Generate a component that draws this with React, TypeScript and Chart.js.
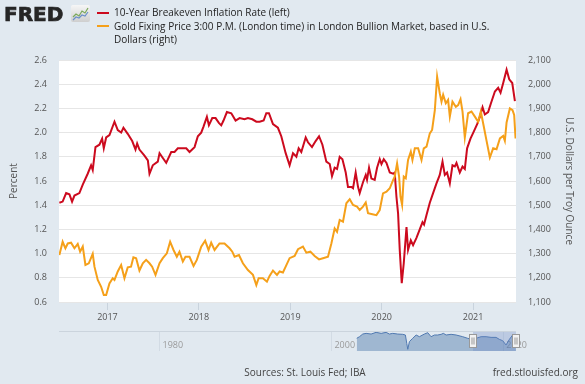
import React, { useEffect, useRef } from 'react';
import { Chart, registerables } from 'chart.js';

Chart.register(...registerables);

// ---------- data ----------
const breakevenName = '10-Year Breakeven Inflation Rate (left)';
const goldNameLines = ['Gold Fixing Price 3:00 P.M. (London time) in London Bullion Market, based in U.S.', 'Dollars (right)'];

const breakevenDates = [
  2016.474, 2016.510, 2016.548, 2016.584, 2016.613, 2016.639, 2016.693, 2016.730, 2016.784, 2016.821,
  2016.839, 2016.869, 2016.912, 2016.942, 2016.960, 2016.986, 2017.022, 2017.077, 2017.113, 2017.150,
  2017.175, 2017.222, 2017.271, 2017.307, 2017.325, 2017.350, 2017.405, 2017.442, 2017.460, 2017.496,
  2017.551, 2017.570, 2017.606, 2017.643, 2017.698, 2017.734, 2017.770, 2017.825, 2017.862, 2017.898,
  2017.953, 2017.989, 2018.026, 2018.051, 2018.088, 2018.110, 2018.147, 2018.183, 2018.219, 2018.245,
  2018.270, 2018.307, 2018.355, 2018.402, 2018.446, 2018.500, 2018.537, 2018.585, 2018.629, 2018.665,
  2018.709, 2018.738, 2018.767, 2018.811, 2018.865, 2018.902, 2018.950, 2018.993, 2019.030, 2019.067,
  2019.092, 2019.121, 2019.169, 2019.194, 2019.238, 2019.278, 2019.315, 2019.352, 2019.395, 2019.432,
  2019.457, 2019.486, 2019.512, 2019.541, 2019.571, 2019.607, 2019.632, 2019.669, 2019.687, 2019.716,
  2019.742, 2019.760, 2019.796, 2019.826, 2019.840, 2019.862, 2019.888, 2019.924, 2019.950, 2019.979,
  2019.998, 2020.023, 2020.053, 2020.089, 2020.125, 2020.143, 2020.162, 2020.180, 2020.198, 2020.220,
  2020.242, 2020.272, 2020.289, 2020.319, 2020.344, 2020.381, 2020.417, 2020.447, 2020.464, 2020.491,
  2020.527, 2020.563, 2020.600, 2020.636, 2020.666, 2020.691, 2020.716, 2020.746, 2020.775, 2020.801,
  2020.819, 2020.855, 2020.885, 2020.910, 2020.935, 2020.972, 2021.009, 2021.045, 2021.074, 2021.104,
  2021.129, 2021.165, 2021.195, 2021.239, 2021.275, 2021.301, 2021.330, 2021.367, 2021.396, 2021.429,
  2021.458,
];
const breakevenValues = [
  1.42, 1.43, 1.50, 1.49, 1.43, 1.48, 1.50, 1.57, 1.66, 1.73,
  1.69, 1.88, 1.90, 1.95, 1.87, 1.96, 1.98, 2.09, 2.02, 2.00,
  2.04, 1.99, 1.93, 1.86, 1.91, 1.86, 1.81, 1.77, 1.66, 1.73,
  1.76, 1.83, 1.79, 1.75, 1.84, 1.84, 1.87, 1.87, 1.87, 1.84,
  1.88, 1.97, 2.00, 2.05, 2.13, 2.06, 2.12, 2.12, 2.08, 2.06,
  2.10, 2.17, 2.16, 2.10, 2.12, 2.11, 2.12, 2.11, 2.09, 2.09,
  2.10, 2.16, 2.16, 2.07, 2.04, 1.97, 1.83, 1.73, 1.83, 1.80,
  1.87, 1.84, 1.96, 1.92, 1.88, 1.93, 1.97, 1.90, 1.76, 1.74,
  1.64, 1.71, 1.70, 1.80, 1.78, 1.67, 1.55, 1.55, 1.54, 1.67,
  1.55, 1.50, 1.59, 1.65, 1.61, 1.71, 1.62, 1.61, 1.71, 1.78,
  1.74, 1.78, 1.75, 1.67, 1.66, 1.67, 1.47, 1.33, 1.03, 0.755,
  0.92, 1.22, 1.03, 1.11, 1.07, 1.13, 1.20, 1.26, 1.24, 1.32,
  1.42, 1.50, 1.58, 1.65, 1.76, 1.65, 1.67, 1.58, 1.73, 1.72,
  1.75, 1.67, 1.72, 1.70, 1.87, 1.95, 2.01, 2.07, 2.13, 2.21,
  2.15, 2.17, 2.24, 2.34, 2.37, 2.33, 2.41, 2.52, 2.44, 2.41,
  2.26,
];

const goldDates = [
  2016.474, 2016.510, 2016.540, 2016.566, 2016.602, 2016.639, 2016.675, 2016.701, 2016.730, 2016.759,
  2016.796, 2016.839, 2016.858, 2016.894, 2016.931, 2016.960, 2016.986, 2017.022, 2017.058, 2017.077,
  2017.113, 2017.150, 2017.186, 2017.222, 2017.258, 2017.284, 2017.314, 2017.350, 2017.387, 2017.423,
  2017.460, 2017.489, 2017.526, 2017.570, 2017.606, 2017.650, 2017.686, 2017.723, 2017.759, 2017.788,
  2017.825, 2017.854, 2017.898, 2017.942, 2017.978, 2018.026, 2018.069, 2018.106, 2018.135, 2018.172,
  2018.226, 2018.281, 2018.336, 2018.366, 2018.391, 2018.439, 2018.482, 2018.537, 2018.592, 2018.629,
  2018.654, 2018.701, 2018.745, 2018.774, 2018.811, 2018.855, 2018.884, 2018.920, 2018.950, 2018.993,
  2019.048, 2019.085, 2019.139, 2019.176, 2019.220, 2019.267, 2019.315, 2019.358, 2019.413, 2019.450,
  2019.486, 2019.512, 2019.541, 2019.577, 2019.614, 2019.651, 2019.687, 2019.731, 2019.760, 2019.796,
  2019.826, 2019.851, 2019.899, 2019.943, 2019.979, 2020.015, 2020.053, 2020.089, 2020.125, 2020.143,
  2020.169, 2020.191, 2020.206, 2020.224, 2020.242, 2020.264, 2020.289, 2020.319, 2020.337, 2020.363,
  2020.399, 2020.436, 2020.461, 2020.491, 2020.527, 2020.552, 2020.582, 2020.607, 2020.636, 2020.655,
  2020.673, 2020.702, 2020.727, 2020.746, 2020.775, 2020.812, 2020.837, 2020.863, 2020.885, 2020.910,
  2020.946, 2020.983, 2021.020, 2021.056, 2021.085, 2021.118, 2021.148, 2021.184, 2021.220, 2021.257,
  2021.294, 2021.330, 2021.348, 2021.367, 2021.403, 2021.432, 2021.450, 2021.465,
];
const goldValues = [
  1294, 1349, 1322, 1342, 1345, 1322, 1340, 1308, 1329, 1253,
  1260, 1299, 1246, 1191, 1163, 1129, 1129, 1177, 1198, 1191,
  1226, 1253, 1198, 1243, 1246, 1285, 1281, 1230, 1260, 1274,
  1260, 1246, 1212, 1260, 1281, 1301, 1349, 1315, 1287, 1308,
  1267, 1287, 1287, 1249, 1274, 1329, 1353, 1315, 1345, 1315,
  1342, 1342, 1322, 1308, 1287, 1294, 1260, 1232, 1212, 1170,
  1198, 1198, 1184, 1208, 1230, 1212, 1226, 1222, 1246, 1281,
  1290, 1318, 1329, 1304, 1308, 1290, 1276, 1281, 1287, 1342,
  1404, 1390, 1439, 1432, 1508, 1525, 1501, 1494, 1480, 1494,
  1511, 1467, 1463, 1459, 1480, 1549, 1556, 1570, 1604, 1618,
  1673, 1618, 1535, 1501, 1618, 1611, 1687, 1721, 1687, 1735,
  1735, 1687, 1735, 1742, 1797, 1811, 1893, 2031, 1962, 1928,
  1956, 1921, 1935, 1866, 1928, 1907, 1914, 1938, 1887, 1780,
  1880, 1887, 1866, 1845, 1887, 1824, 1766, 1697, 1735, 1731,
  1776, 1786, 1766, 1842, 1900, 1893, 1873, 1776,
];

// navigator (full history of the left series)
const navDates = [
  2002.94, 2003.26, 2003.64, 2004.03, 2004.61, 2005.19, 2005.78, 2006.36, 2006.74, 2007.13,
  2007.71, 2008.29, 2008.60, 2008.76, 2008.88, 2009.07, 2009.45, 2009.85, 2010.23, 2010.81,
  2011.20, 2011.59, 2011.98, 2012.36, 2012.76, 2013.02, 2013.34, 2013.92, 2014.50, 2015.27,
  2015.85, 2016.24, 2016.83, 2017.41, 2017.99, 2018.57, 2019.15, 2019.53, 2019.92, 2020.31,
  2020.70, 2021.08, 2021.28, 2021.46,
];
const navValues = [
  1.72, 1.96, 2.35, 2.45, 2.35, 2.60, 2.45, 2.60, 2.35, 2.45,
  2.35, 2.31, 2.21, 0.98, 0.10, 1.23, 1.72, 2.21, 1.96, 2.35,
  2.55, 1.96, 2.21, 2.21, 2.31, 2.45, 2.21, 2.31, 2.21, 1.96,
  1.72, 1.57, 1.72, 1.96, 1.96, 1.86, 1.86, 1.57, 1.37, 0.74,
  1.57, 2.21, 2.06, 2.26,
];

const yearTicks = [2017, 2018, 2019, 2020, 2021];
const percentTicks = [0.6, 0.8, 1.0, 1.2, 1.4, 1.6, 1.8, 2.0, 2.2, 2.4, 2.6];
const goldTicks = [1100, 1200, 1300, 1400, 1500, 1600, 1700, 1800, 1900, 2000, 2100];
const navYearTicks = [1980, 2000, 2020];
const viewStart = 2016.47;
const viewEnd = 2021.47;
const navStart = 1968.3;

// ---------- styles ----------
const RED = '#cc0a1e';
const ORANGE = '#f5a01a';
const BG = '#e1e9f0';
const FONT = "'Open Sans', sans-serif";
const TICK_COLOR = '#555';

const plotBg = {
  id: 'plotBg',
  beforeDraw(chart: any) {
    const { ctx, chartArea: a } = chart;
    ctx.save();
    ctx.fillStyle = '#ffffff';
    ctx.fillRect(a.left, a.top, a.right - a.left, a.bottom - a.top);
    ctx.restore();
  },
};

// navigator axis labels sit inside the navigator strip, under the series
const navLabels = {
  id: 'navLabels',
  beforeDatasetsDraw(chart: any) {
    const { ctx, chartArea: a, scales } = chart;
    const xs = scales.x;
    ctx.save();
    ctx.font = `9px ${FONT}`;
    ctx.fillStyle = '#9a9a9a';
    ctx.textAlign = 'left';
    ctx.textBaseline = 'middle';
    xs.ticks.forEach((t: any) => {
      ctx.fillText(String(t.value), xs.getPixelForValue(t.value) + 3, a.bottom - 6);
    });
    ctx.restore();
  },
};

const navOverlay = {
  id: 'navOverlay',
  afterDatasetsDraw(chart: any) {
    const { ctx, chartArea: a, scales } = chart;
    const xs = scales.x;
    const x1 = xs.getPixelForValue(viewStart);
    const x2 = xs.getPixelForValue(viewEnd);
    ctx.save();
    ctx.fillStyle = 'rgba(102,133,194,0.3)';
    ctx.fillRect(x1, a.top, x2 - x1, a.bottom - a.top);
    ctx.strokeStyle = '#cbd4dd';
    ctx.lineWidth = 1;
    ctx.beginPath();
    ctx.moveTo(a.left, a.top + 0.5);
    ctx.lineTo(a.right, a.top + 0.5);
    ctx.stroke();
    const mid = (a.top + a.bottom) / 2;
    [x1, x2].forEach((x) => {
      const hx = Math.round(x) - 3.5;
      const hy = Math.round(mid - 7) + 0.5;
      ctx.fillStyle = '#f2f2f2';
      ctx.strokeStyle = '#999';
      ctx.fillRect(hx, hy, 7, 13);
      ctx.strokeRect(hx, hy, 7, 13);
      ctx.beginPath();
      ctx.moveTo(hx + 2.5, hy + 3);
      ctx.lineTo(hx + 2.5, hy + 10);
      ctx.moveTo(hx + 4.5, hy + 3);
      ctx.lineTo(hx + 4.5, hy + 10);
      ctx.stroke();
    });
    ctx.restore();
  },
};

export default function App() {
  const mainRef = useRef<HTMLCanvasElement | null>(null);
  const navRef = useRef<HTMLCanvasElement | null>(null);

  useEffect(() => {
    const tickFont = { family: FONT, size: 9 };
    const titleFont = { family: FONT, size: 10 };
    const main = new Chart(mainRef.current as HTMLCanvasElement, {
      type: 'line',
      data: {
        datasets: [
          {
            label: breakevenName,
            data: breakevenDates.map((d, i) => ({ x: d, y: breakevenValues[i] })),
            borderColor: RED,
            borderWidth: 2,
            pointRadius: 0,
            yAxisID: 'y',
            order: 2,
          },
          {
            label: goldNameLines.join(' '),
            data: goldDates.map((d, i) => ({ x: d, y: goldValues[i] })),
            borderColor: ORANGE,
            borderWidth: 2,
            pointRadius: 0,
            yAxisID: 'y1',
            order: 1,
          },
        ],
      },
      options: {
        responsive: false,
        animation: false,
        events: [],
        layout: { padding: { top: 60, bottom: 60, left: 0, right: 0 } },
        plugins: { legend: { display: false }, tooltip: { enabled: false } },
        scales: {
          x: {
            type: 'linear',
            min: viewStart,
            max: viewEnd,
            afterBuildTicks: (s: any) => {
              s.ticks = yearTicks.map((v) => ({ value: v }));
            },
            afterFit: (s: any) => {
              s.height = 22;
            },
            ticks: {
              callback: (v: any) => String(v),
              font: tickFont,
              color: TICK_COLOR,
              padding: 2,
              maxRotation: 0,
              autoSkip: false,
            },
            grid: { drawOnChartArea: false, drawTicks: true, tickLength: 8, color: '#c9d3dd' },
            border: { display: false },
          },
          y: {
            position: 'left',
            min: 0.6,
            max: 2.6,
            afterBuildTicks: (s: any) => {
              s.ticks = percentTicks.map((v) => ({ value: v }));
            },
            afterFit: (s: any) => {
              s.width = 59;
            },
            ticks: {
              callback: (v: any) => Number(v).toFixed(1),
              font: tickFont,
              color: TICK_COLOR,
              padding: 12,
            },
            grid: { color: '#e6e6e6', drawTicks: false },
            border: { display: false },
            title: {
              display: true,
              text: 'Percent',
              font: titleFont,
              color: TICK_COLOR,
              padding: { top: 8, bottom: 0 },
            },
          },
          y1: {
            position: 'right',
            min: 1100,
            max: 2100,
            afterBuildTicks: (s: any) => {
              s.ticks = goldTicks.map((v) => ({ value: v }));
            },
            afterFit: (s: any) => {
              s.width = 69;
            },
            ticks: {
              callback: (v: any) => Number(v).toLocaleString('en-US'),
              font: tickFont,
              color: TICK_COLOR,
              padding: 12,
            },
            grid: { drawOnChartArea: false, drawTicks: false },
            border: { display: false },
            title: {
              display: true,
              text: 'U.S. Dollars per Troy Ounce',
              font: titleFont,
              color: TICK_COLOR,
              padding: { top: 10, bottom: 0 },
            },
          },
        },
      } as any,
      plugins: [plotBg],
    });

    const nav = new Chart(navRef.current as HTMLCanvasElement, {
      type: 'line',
      data: {
        datasets: [
          {
            data: navDates.map((d, i) => ({ x: d, y: navValues[i] })),
            borderColor: '#4f78b0',
            borderWidth: 1,
            backgroundColor: 'rgba(69,114,167,0.42)',
            fill: 'start',
            pointRadius: 0,
          },
        ],
      },
      options: {
        responsive: false,
        animation: false,
        events: [],
        layout: { padding: { top: 11, bottom: 0, left: 59, right: 69 } },
        plugins: { legend: { display: false }, tooltip: { enabled: false } },
        scales: {
          x: {
            type: 'linear',
            min: navStart,
            max: viewEnd,
            afterBuildTicks: (s: any) => {
              s.ticks = navYearTicks.map((v) => ({ value: v }));
            },
            afterFit: (s: any) => {
              s.height = 9;
            },
            ticks: { display: false },
            grid: { drawOnChartArea: true, drawTicks: false, color: '#d2dbe4' },
            border: { display: false },
          },
          y: { display: false, min: -0.15, max: 2.8 },
        },
      } as any,
      plugins: [navLabels, navOverlay],
    });

    return () => {
      main.destroy();
      nav.destroy();
    };
  }, []);

  const textBase: React.CSSProperties = {
    position: 'absolute',
    fontFamily: FONT,
    whiteSpace: 'nowrap',
  };

  return (
    <div style={{ position: 'fixed', left: 0, top: 0, width: 585, height: 384, background: BG, overflow: 'hidden' }}>
      <canvas ref={mainRef} width={585} height={384} style={{ position: 'absolute', left: 0, top: 0 }} />
      <canvas ref={navRef} width={585} height={40} style={{ position: 'absolute', left: 0, top: 320 }} />
      <div
        style={{
          ...textBase,
          left: 4,
          top: 4,
          fontFamily: "'DejaVu Sans', sans-serif",
          fontWeight: 'bold',
          fontSize: 20,
          lineHeight: '20px',
          letterSpacing: 0,
          color: '#262626',
          WebkitTextStroke: '0.7px #262626',
        }}
      >
        FRED
      </div>
      <svg width={19} height={17} style={{ position: 'absolute', left: 71, top: 5 }}>
        <defs>
          <linearGradient id="fredIcon" x1="0" y1="0" x2="0" y2="1">
            <stop offset="0" stopColor="#f6f6f6" />
            <stop offset="1" stopColor="#cfcfcf" />
          </linearGradient>
        </defs>
        <rect x={0} y={0} width={19} height={17} rx={2} fill="url(#fredIcon)" />
        <polyline points="2,12 5,9 8,11 11,6 14,8 17,3" stroke="#7aa85a" strokeWidth={1.2} fill="none" />
        <polyline points="2,15 5,12 8,13 11,10 14,11 17,7" stroke="#6a8fc8" strokeWidth={1.2} fill="none" />
      </svg>
      <div style={{ position: 'absolute', left: 97, top: 12, width: 12, height: 2, background: RED }} />
      <div style={{ position: 'absolute', left: 97, top: 25, width: 12, height: 2, background: ORANGE }} />
      <div style={{ ...textBase, left: 114, top: 6, fontSize: 10, lineHeight: '13.5px', color: '#222' }}>
        {breakevenName}
        <br />
        {goldNameLines[0]}
        <br />
        {goldNameLines[1]}
      </div>
      <div style={{ ...textBase, left: 0, width: 610, top: 365, textAlign: 'center', fontSize: 10, lineHeight: '14px', color: '#444' }}>
        Sources: St. Louis Fed; IBA
      </div>
      <div style={{ ...textBase, right: 7, top: 365, fontSize: 10, lineHeight: '14px', color: '#444' }}>
        fred.stlouisfed.org
      </div>
    </div>
  );
}
